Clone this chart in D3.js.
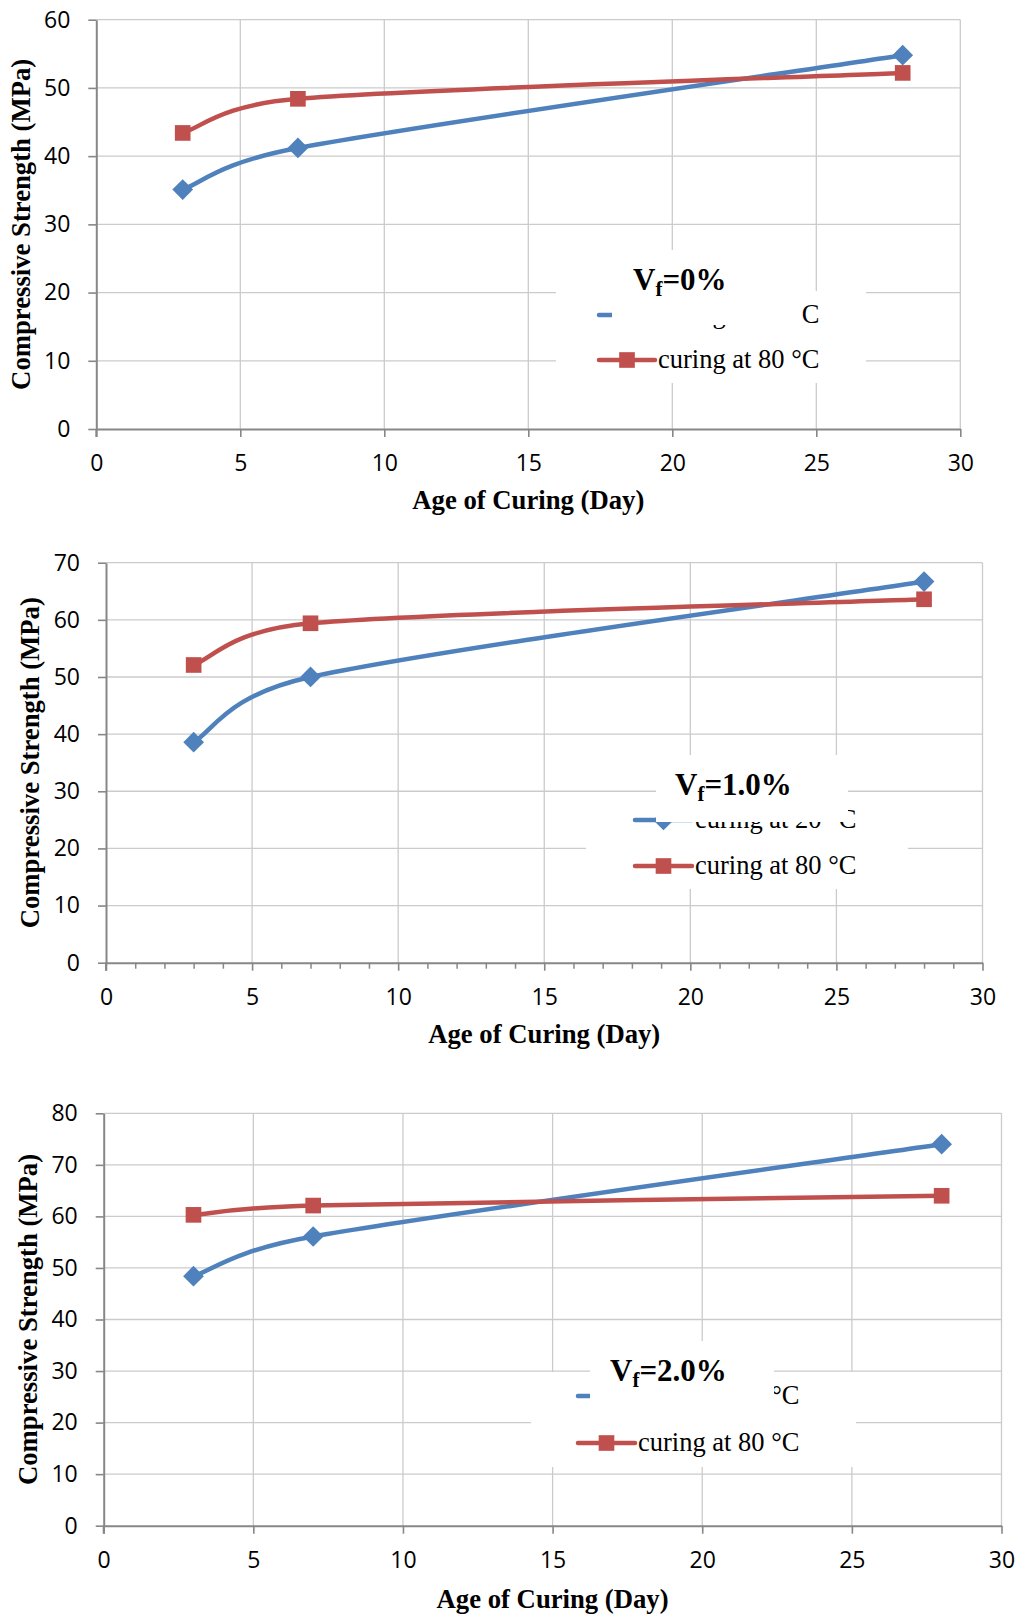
<!DOCTYPE html>
<html>
<head>
<meta charset="utf-8">
<script src="https://cdn.jsdelivr.net/npm/d3@7"></script>
<style>
  body { margin: 0; background: #fff; }
  svg { display: block; }
  .tick text { font-family: "Open Sans", sans-serif; font-size: 23px; fill: #000; }
  .axis-title { font-family: "Liberation Serif", "Times New Roman", serif; font-weight: bold; font-size: 26.7px; fill: #000; }
  .legend-text { font-family: "Liberation Serif", "Times New Roman", serif; font-size: 26.5px; fill: #000; }
  .vf-label { font-family: "Liberation Serif", "Times New Roman", serif; font-weight: bold; font-size: 31px; fill: #000; }
</style>
</head>
<body>
<div id="chart"></div>
<script>
// curing age (days)
const days = [3, 7, 28];

// compressive strength (MPa)
const cure20Vf0 = [35.1, 41.2, 54.8];
const cure80Vf0 = [43.4, 48.4, 52.2];
const cure20Vf1 = [38.6, 50.0, 66.7];
const cure80Vf1 = [52.1, 59.4, 63.6];
const cure20Vf2 = [48.4, 56.1, 74.0];
const cure80Vf2 = [60.3, 62.1, 64.0];

const seriesNames = ["curing at 20 °C", "curing at 80 °C"];
const vfLabels = ["=0%", "=1.0%", "=2.0%"];
const xTicks = [0, 5, 10, 15, 20, 25, 30];
const yTicks0 = [0, 10, 20, 30, 40, 50, 60];
const yTicks1 = [0, 10, 20, 30, 40, 50, 60, 70];
const yTicks2 = [0, 10, 20, 30, 40, 50, 60, 70, 80];

const blue = "#4F81BD", red = "#C0504D";
const gridColor = "#cbcbcb", axisColor = "#878787";

// where each panel sits on the page
const layout = [
  { left: 96.3, right: 960.3, top: 19.7, bottom: 429, yTitleX: 29.5, xTitleY: 509, minor: false,
    legend: { x0: 556, x1: 866, y0: 291, y1: 383, rows: [315, 360], line: [599, 655], textX: 658 },
    cover: { x0: 612, x1: 801, y0: 250, y1: 325 }, vf: { x: 633, y: 290 } },
  { left: 106, right: 982.5, top: 562.7, bottom: 962.7, yTitleX: 39.3, xTitleY: 1043, minor: true,
    legend: { x0: 586, x1: 908, y0: 796, y1: 889, rows: [820, 866], line: [635, 692], textX: 695 },
    cover: { x0: 656, x1: 848, y0: 755, y1: 822 }, vf: { x: 675, y: 795 } },
  { left: 103.7, right: 1001.5, top: 1113.3, bottom: 1525.7, yTitleX: 37.3, xTitleY: 1608, minor: false,
    legend: { x0: 531, x1: 856, y0: 1372, y1: 1467, rows: [1396, 1443], line: [578, 635], textX: 638 },
    cover: { x0: 590, x1: 774, y0: 1341, y1: 1412 }, vf: { x: 610, y: 1381 } }
];

const panels = [
  { s20: cure20Vf0, s80: cure80Vf0, yTicks: yTicks0, vf: vfLabels[0] },
  { s20: cure20Vf1, s80: cure80Vf1, yTicks: yTicks1, vf: vfLabels[1] },
  { s20: cure20Vf2, s80: cure80Vf2, yTicks: yTicks2, vf: vfLabels[2] }
];

// smoothed line like the spreadsheet's: tangent along neighbour chord,
// handles a sixth of that chord but never longer than ~2/3 of the segment
function smoothCurve(context) {
  let pts;
  return {
    areaStart() {}, areaEnd() {},
    lineStart() { pts = []; },
    point(x, y) { pts.push([x, y]); },
    lineEnd() {
      const n = pts.length;
      if (!n) return;
      context.moveTo(pts[0][0], pts[0][1]);
      const handle = function(i, dir) {
        const prev = pts[Math.max(i - 1, 0)], next = pts[Math.min(i + 1, n - 1)];
        const tx = next[0] - prev[0], ty = next[1] - prev[1];
        const tl = Math.hypot(tx, ty);
        const nb = pts[i + dir];
        const seg = Math.hypot(nb[0] - pts[i][0], nb[1] - pts[i][1]);
        const len = Math.min(tl / 6, 0.65 * seg);
        return [pts[i][0] + dir * tx / tl * len, pts[i][1] + dir * ty / tl * len];
      };
      for (let i = 0; i < n - 1; i++) {
        const c1 = handle(i, 1), c2 = handle(i + 1, -1);
        context.bezierCurveTo(c1[0], c1[1], c2[0], c2[1], pts[i + 1][0], pts[i + 1][1]);
      }
    }
  };
}

const svg = d3.select("#chart").append("svg")
  .attr("width", 1020)
  .attr("height", 1615);

const diamond = d3.symbol().type(d3.symbolSquare).size(215);
const square = d3.symbol().type(d3.symbolSquare).size(245);

panels.forEach(function(p, i) {
  const L = layout[i];
  const g = svg.append("g");
  const yMax = d3.max(p.yTicks);

  const x = d3.scaleLinear().domain([0, 30]).range([L.left, L.right]);
  const y = d3.scaleLinear().domain([0, yMax]).range([L.bottom, L.top]);

  // gridlines
  g.selectAll(".hgrid").data(p.yTicks.filter(d => d > 0)).enter().append("line")
    .attr("x1", L.left).attr("x2", L.right)
    .attr("y1", d => y(d)).attr("y2", d => y(d))
    .attr("stroke", gridColor).attr("stroke-width", 1.3);
  g.selectAll(".vgrid").data(xTicks.filter(d => d > 0)).enter().append("line")
    .attr("x1", d => x(d)).attr("x2", d => x(d))
    .attr("y1", L.top).attr("y2", L.bottom)
    .attr("stroke", gridColor).attr("stroke-width", 1.3);

  // axes
  const yAxis = g.append("g")
    .attr("transform", "translate(" + L.left + ",0)")
    .call(d3.axisLeft(y).tickValues(p.yTicks).tickSize(8).tickSizeOuter(0).tickPadding(18));
  const xAxis = g.append("g")
    .attr("transform", "translate(0," + L.bottom + ")")
    .call(d3.axisBottom(x).tickValues(xTicks).tickSize(8).tickSizeOuter(0).tickPadding(17.5));
  if (L.minor) {
    g.append("g")
      .attr("transform", "translate(0," + L.bottom + ")")
      .call(d3.axisBottom(x).tickValues(d3.range(1, 30).filter(d => d % 5)).tickSize(6).tickSizeOuter(0).tickFormat(""))
      .call(a => a.select(".domain").remove())
      .selectAll("line").attr("stroke", axisColor).attr("stroke-width", 1.5);
  }
  [yAxis, xAxis].forEach(function(a) {
    a.select(".domain").attr("stroke", axisColor).attr("stroke-width", 2);
    a.selectAll(".tick line").attr("stroke", axisColor).attr("stroke-width", 1.6);
  });
  // y axis line continues down to the x tick length
  g.append("line")
    .attr("x1", L.left).attr("x2", L.left)
    .attr("y1", L.bottom).attr("y2", L.bottom + 8)
    .attr("stroke", axisColor).attr("stroke-width", 2);

  // axis titles
  g.append("text").attr("class", "axis-title")
    .attr("transform", "translate(" + L.yTitleX + "," + (L.top + L.bottom) / 2 + ") rotate(-90)")
    .attr("text-anchor", "middle")
    .text("Compressive Strength (MPa)");
  g.append("text").attr("class", "axis-title")
    .attr("x", (L.left + L.right) / 2).attr("y", L.xTitleY)
    .attr("text-anchor", "middle")
    .text("Age of Curing (Day)");

  // legend box (white, hides gridlines)
  const lg = L.legend;
  g.append("rect")
    .attr("x", lg.x0).attr("y", lg.y0)
    .attr("width", lg.x1 - lg.x0).attr("height", lg.y1 - lg.y0)
    .attr("fill", "#fff");

  // series
  const series = [
    { name: seriesNames[0], values: p.s20, color: blue, sym: diamond, rot: 45 },
    { name: seriesNames[1], values: p.s80, color: red, sym: square, rot: 0 }
  ];
  const line = d3.line()
    .x(d => x(d[0])).y(d => y(d[1]))
    .curve(smoothCurve);

  series.forEach(function(s, k) {
    const pts = days.map((d, j) => [d, s.values[j]]);
    g.append("path")
      .attr("d", line(pts))
      .attr("fill", "none")
      .attr("stroke", s.color)
      .attr("stroke-width", 4.5)
      .attr("stroke-linecap", "round");
    g.selectAll(".m" + k).data(pts).enter().append("path")
      .attr("d", s.sym())
      .attr("transform", d => "translate(" + x(d[0]) + "," + y(d[1]) + ") rotate(" + s.rot + ")")
      .attr("fill", s.color);

    // legend entry
    const ry = lg.rows[k];
    g.append("line")
      .attr("x1", lg.line[0]).attr("x2", lg.line[1])
      .attr("y1", ry).attr("y2", ry)
      .attr("stroke", s.color).attr("stroke-width", 4.5)
      .attr("stroke-linecap", "round");
    g.append("path")
      .attr("d", s.sym())
      .attr("transform", "translate(" + (lg.line[0] + lg.line[1]) / 2 + "," + ry + ") rotate(" + s.rot + ")")
      .attr("fill", s.color);
    g.append("text").attr("class", "legend-text")
      .attr("x", lg.textX).attr("y", ry + 8)
      .text(s.name);
  });

  // Vf text box laid over the legend
  const cv = L.cover;
  g.append("rect")
    .attr("x", cv.x0).attr("y", cv.y0)
    .attr("width", cv.x1 - cv.x0).attr("height", cv.y1 - cv.y0)
    .attr("fill", "#fff");
  const vt = g.append("text").attr("class", "vf-label")
    .attr("x", L.vf.x).attr("y", L.vf.y);
  vt.append("tspan").text("V");
  vt.append("tspan").attr("font-size", "21px").attr("dy", 6).text("f");
  vt.append("tspan").attr("dy", -6).text(p.vf);
});
</script>
</body>
</html>
